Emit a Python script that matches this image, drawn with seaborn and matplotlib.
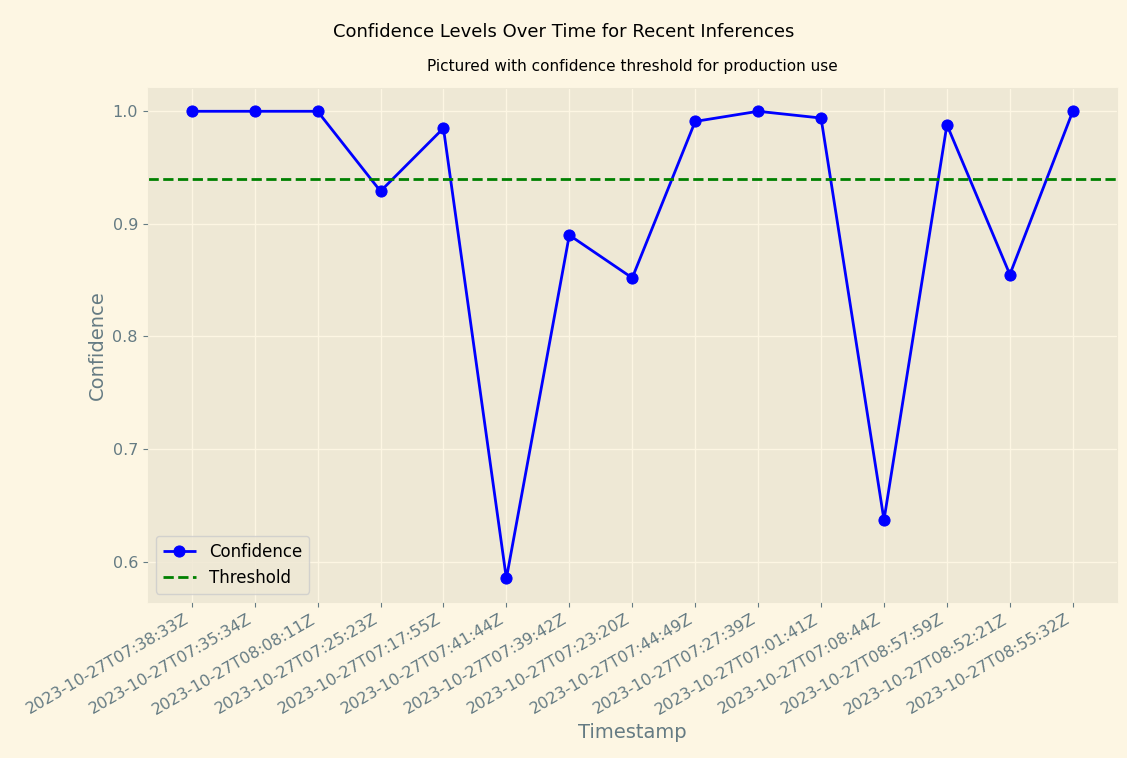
import matplotlib
matplotlib.use("Agg")
import matplotlib.pyplot as plt
import seaborn as sns
import pandas as pd

timestamps = [
    "2023-10-27T07:38:33Z", "2023-10-27T07:35:34Z", "2023-10-27T08:08:11Z",
    "2023-10-27T07:25:23Z", "2023-10-27T07:17:55Z", "2023-10-27T07:41:44Z",
    "2023-10-27T07:39:42Z", "2023-10-27T07:23:20Z", "2023-10-27T07:44:49Z",
    "2023-10-27T07:27:39Z", "2023-10-27T07:01:41Z", "2023-10-27T07:08:44Z",
    "2023-10-27T08:57:59Z", "2023-10-27T08:52:21Z", "2023-10-27T08:55:32Z",
]
confidence = [1.0, 1.0, 1.0, 0.929, 0.985, 0.585, 0.890, 0.852,
              0.991, 1.0, 0.994, 0.637, 0.988, 0.855, 1.0]
threshold = 0.94

plt.style.use("Solarize_Light2")
df = pd.DataFrame({"Timestamp": timestamps, "Confidence": confidence})

fig, ax = plt.subplots(figsize=(11.27, 7.58), dpi=100)
sns.lineplot(data=df, x="Timestamp", y="Confidence", ax=ax, color="blue",
             marker="o", markersize=8, markeredgecolor="blue", linewidth=2,
             label="Confidence", sort=False)
ax.axhline(threshold, color="green", linestyle="--", linewidth=2, label="Threshold")

fig.suptitle("Confidence Levels Over Time for Recent Inferences", fontsize=13, y=0.97)
ax.set_title("Pictured with confidence threshold for production use", fontsize=11, pad=12)
ax.set_xlabel("Timestamp", fontsize=14)
ax.set_ylabel("Confidence", fontsize=14)
ax.tick_params(labelsize=11.5)
plt.setp(ax.get_xticklabels(), rotation=30, ha="right")
ax.legend(loc="lower left", fontsize=12)
fig.subplots_adjust(left=0.131, right=0.991, top=0.884, bottom=0.206)
fig.savefig("out.png", dpi=100)
